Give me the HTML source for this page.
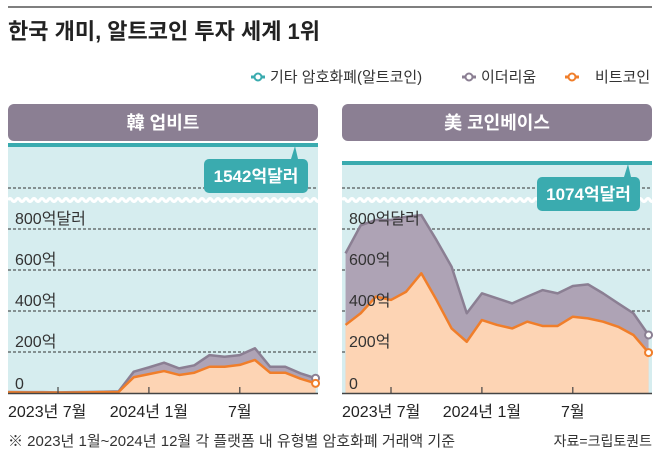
<!DOCTYPE html>
<html><head><meta charset="utf-8"><style>
body{margin:0;background:#fff;}
svg{display:block;font-family:"Liberation Sans","Noto Sans CJK KR",sans-serif;}
</style></head><body>
<svg id="chart" width="658" height="457" viewBox="0 0 658 457">
<line x1="8" y1="7" x2="652" y2="7" stroke="#555" stroke-width="1.5"/>
<text x="8" y="39" font-size="22" font-weight="bold" fill="#222">한국 개미, 알트코인 투자 세계 1위</text>
<g font-size="15" fill="#333">
 <g><line x1="251" y1="77" x2="265" y2="77" stroke="#3aabaf" stroke-width="3"/><circle cx="258" cy="77" r="3.5" fill="#fff" stroke="#3aabaf" stroke-width="2"/><text x="270" y="82">기타 암호화폐(알트코인)</text></g>
 <g><line x1="462" y1="77" x2="476" y2="77" stroke="#8b7f93" stroke-width="3"/><circle cx="469" cy="77" r="3.5" fill="#fff" stroke="#8b7f93" stroke-width="2"/><text x="481" y="82">이더리움</text></g>
 <g><line x1="565" y1="77" x2="579" y2="77" stroke="#f07e2a" stroke-width="3"/><circle cx="572" cy="77" r="3.5" fill="#fff" stroke="#f07e2a" stroke-width="2"/><text x="595" y="82">비트코인</text></g>
</g>
<g id="panels"></g>
<text x="8" y="446" font-size="15" fill="#333">※ 2023년 1월~2024년 12월 각 플랫폼 내 유형별 암호화폐 거래액 기준</text>
<text x="652" y="446" font-size="14" fill="#333" text-anchor="end">자료=크립토퀀트</text>
</svg>
<script>
// month index: 0 = 2023-01 ... 23 = 2024-12
const upbitMonths = [2,3,4,5,6,7,8,9,10,11,12,13,14,15,16,17,18,19,20,21,22,23];
const upbitEthTop = [5,5,4,4,3,4,5,6,8,104,125,148,120,135,185,177,185,218,128,128,96,72];
const upbitBtc = [3,3,2,2,2,2,3,4,5,77,92,107,88,99,128,128,137,161,99,99,70,47];
const cbMonths = [3,4,5,6,7,8,9,10,11,12,13,14,15,16,17,18,19,20,21,22,23];
const cbEthTop = [681,818,844,844,860,868,746,616,389,486,462,437,470,502,486,522,530,486,437,389,283];
const cbBtc = [332,389,470,454,494,584,454,315,250,356,332,315,348,327,327,372,364,348,323,283,197];
const yTicks = [0,200,400,600,800];
const yTickLabels = ["0","200억","400억","600억","800억달러"];
const xTicks = [6,12,18];
const xTickLabels = ["2023년 7월","2024년 1월","7월"];
const totals = ["1542억달러","1074억달러"];

const NS="http://www.w3.org/2000/svg";
const root=document.getElementById('panels');
function mk(tag,attrs,parent){const e=document.createElementNS(NS,tag);for(const k in attrs)e.setAttribute(k,attrs[k]);(parent||root).appendChild(e);return e;}
const y0=393, ppu=41/200;
function yS(v){return y0-v*ppu;}

function panel(idx,px,title,topY,months,eth,btc,m6x,labelBox){
  const w=310, g=mk('g',{});
  
  
  const xS=m=>m6x+(m-6)*15.15;
  const hdr=mk('rect',{x:px,y:104,width:w,height:37,rx:6,fill:'#8b7f93'},g);
  
  
  const ht=mk('text',{x:px+w/2,y:129,'font-size':18,'font-weight':'bold',fill:'#fff','text-anchor':'middle'},g);ht.textContent=title;
  
  
  mk('rect',{x:px,y:topY,width:w,height:y0-topY,fill:'#d6edef'},g);
  const cid='clip'+idx;
  const cp=mk('clipPath',{id:cid},g);mk('rect',{x:px,y:topY,width:w,height:y0-topY+2},cp);
  mk('line',{x1:px,x2:px+w,y1:188,y2:188,stroke:'#333','stroke-dasharray':'3,2','stroke-width':1},g);
  for(let i=1;i<yTicks.length;i++){
    const gl=mk('line',{x1:px,x2:px+w,y1:yS(yTicks[i]),y2:yS(yTicks[i]),stroke:'#333','stroke-dasharray':'3,2','stroke-width':1},g);
    
    
  }
  const ga=mk('g',{'clip-path':'url(#'+cid+')'},g);
  let p1='M'+xS(months[0])+','+y0;months.forEach((m,i)=>p1+=' L'+xS(m)+','+yS(eth[i]));p1+=' L'+xS(months[months.length-1])+','+y0+'Z';
  const a1=mk('path',{d:p1,fill:'#aea3b5'},ga);
  
  
  let p2='M'+xS(months[0])+','+y0;months.forEach((m,i)=>p2+=' L'+xS(m)+','+yS(btc[i]));p2+=' L'+xS(months[months.length-1])+','+y0+'Z';
  const a2=mk('path',{d:p2,fill:'#fdd4b4'},ga);
  
  
  const l1=mk('polyline',{points:months.map((m,i)=>xS(m)+','+yS(eth[i])).join(' '),fill:'none',stroke:'#8b7f93','stroke-width':2.5,'stroke-linejoin':'round'},ga);
  
  
  const l2=mk('polyline',{points:months.map((m,i)=>xS(m)+','+yS(btc[i])).join(' '),fill:'none',stroke:'#f07e2a','stroke-width':2.5,'stroke-linejoin':'round'},ga);
  
  
  const n=months.length-1;
  const e1=mk('circle',{cx:xS(months[n]),cy:yS(eth[n]),r:3.5,fill:'#fff',stroke:'#8b7f93','stroke-width':2},g);
  
  
  const e2=mk('circle',{cx:xS(months[n]),cy:yS(btc[n]),r:3.5,fill:'#fff',stroke:'#f07e2a','stroke-width':2},g);
  
  
  let wd='M'+px+',200';for(let x=px;x<px+w;x+=8)wd+=' q2,-3 4,0 q2,3 4,0';
  mk('path',{d:wd,fill:'none',stroke:'#fff','stroke-width':3},g);
  const tl=mk('rect',{x:px,y:topY-2,width:w,height:4,fill:'#3aabaf'},g);
  
  
  const [bx,by,bw,bh,pxp]=labelBox;
  mk('path',{d:'M'+(pxp-4)+','+by+' L'+pxp+','+(topY+1)+' L'+(pxp+3)+','+by+'Z',fill:'#3aabaf'},g);
  mk('rect',{x:bx,y:by,width:bw,height:bh,rx:5,fill:'#3aabaf'},g);
  const lt=mk('text',{x:bx+bw/2,y:by+bh/2+6,'font-size':17,'font-weight':'bold',fill:'#fff','text-anchor':'middle'},g);lt.textContent=totals[idx];
  
  
  yTicks.forEach((v,i)=>{
    const t=mk('text',{x:px+7,y:yS(v)-(i===0?4:5),'font-size':16,fill:'#333'},g);t.textContent=yTickLabels[i];
    
    
  });
  mk('line',{x1:px,x2:px+w,y1:y0+0.5,y2:y0+0.5,stroke:'#444','stroke-width':1.5},g);
  xTicks.forEach((m,i)=>{
    mk('line',{x1:xS(m),x2:xS(m),y1:y0,y2:y0-6,stroke:'#444','stroke-width':1.2},g);
    const t=mk('text',{x:i===0?px:xS(m),y:417,'font-size':16,fill:'#222','text-anchor':i===0?'start':'middle'},g);t.textContent=xTickLabels[i];
    
    
  });
}
panel(0,8,'韓 업비트',145,upbitMonths,upbitEthTop,upbitBtc,58,[204,159,104,34,295]);
panel(1,342,'美 코인베이스',163,cbMonths,cbEthTop,cbBtc,391,[537,177,103,34,628]);
</script>
</body></html>
